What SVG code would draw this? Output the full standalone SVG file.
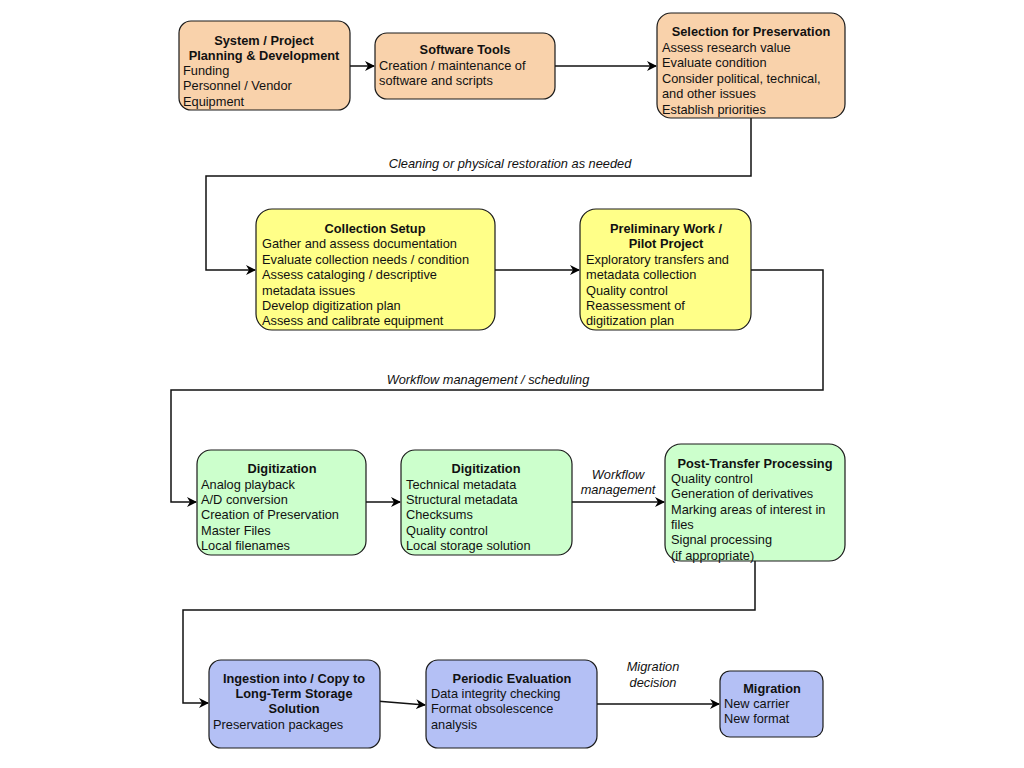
<svg xmlns="http://www.w3.org/2000/svg" width="1024" height="768" viewBox="0 0 1024 768">
<defs>
<marker id="arr" markerWidth="10" markerHeight="10" refX="9" refY="5" orient="auto" markerUnits="userSpaceOnUse">
<path d="M0,0 L10,5 L0,10 L3,5 Z" fill="#000"/>
</marker>
</defs>
<style>
.box{stroke:#1a1a1a;stroke-width:1.2}
.o{fill:#f9d2ab}
.y{fill:#ffff88}
.g{fill:#ccffcc}
.b{fill:#b4c0f5}
text{font-family:"Liberation Sans",Arial,sans-serif;font-size:12.8px;fill:#111}
.t{font-weight:bold;text-anchor:middle}
.lbl{font-style:italic;text-anchor:middle}
.c{fill:none;stroke:#111;stroke-width:1.5}
</style>
<rect width="1024" height="768" fill="#fff"/>
<g id="connectors">
<path class="c" d="M350,66 L374,66" marker-end="url(#arr)"/>
<path class="c" d="M555,66 L656,66" marker-end="url(#arr)"/>
<path class="c" d="M751,118 L751,176 L206,176 L206,270 L255,270" marker-end="url(#arr)"/>
<path class="c" d="M495,270 L579,270" marker-end="url(#arr)"/>
<path class="c" d="M751,270 L823,270 L823,390 L171,390 L171,502 L196,502" marker-end="url(#arr)"/>
<path class="c" d="M366,502 L400,502" marker-end="url(#arr)"/>
<path class="c" d="M572,502 L664,502" marker-end="url(#arr)"/>
<path class="c" d="M755,561 L755,610 L183,610 L183,703 L208,703" marker-end="url(#arr)"/>
<path class="c" d="M376,701 L425,705" marker-end="url(#arr)"/>
<path class="c" d="M597,704 L719,704" marker-end="url(#arr)"/>
<text class="lbl" x="510" y="168">Cleaning or physical restoration as needed</text>
<text class="lbl" x="488" y="384">Workflow management / scheduling</text>
<text class="lbl" x="618" y="479">Workflow</text>
<text class="lbl" x="618" y="494">management</text>
<text class="lbl" x="653" y="671">Migration</text>
<text class="lbl" x="653" y="687">decision</text>
</g>
<g id="n1">
<rect class="box o" x="179" y="21" width="171" height="89" rx="12"/>
<text class="t" x="264" y="45">System / Project</text>
<text class="t" x="264" y="60">Planning &amp; Development</text>
<text x="183" y="75">Funding</text>
<text x="183" y="90">Personnel / Vendor</text>
<text x="183" y="106">Equipment</text>
</g>
<g id="n2">
<rect class="box o" x="375" y="33" width="180" height="66" rx="12"/>
<text class="t" x="465" y="54">Software Tools</text>
<text x="379" y="70">Creation / maintenance of</text>
<text x="379" y="85">software and scripts</text>
</g>
<g id="n3">
<rect class="box o" x="657" y="13" width="188" height="105" rx="14"/>
<text class="t" x="751" y="36">Selection for Preservation</text>
<text x="662" y="52">Assess research value</text>
<text x="662" y="67">Evaluate condition</text>
<text x="662" y="83">Consider political, technical,</text>
<text x="662" y="98">and other issues</text>
<text x="662" y="114">Establish priorities</text>
</g>
<g id="n4">
<rect class="box y" x="256" y="209" width="239" height="121" rx="16"/>
<text class="t" x="375" y="233">Collection Setup</text>
<text x="262" y="248">Gather and assess documentation</text>
<text x="262" y="264">Evaluate collection needs / condition</text>
<text x="262" y="279">Assess cataloging / descriptive</text>
<text x="262" y="295">metadata issues</text>
<text x="262" y="310">Develop digitization plan</text>
<text x="262" y="325">Assess and calibrate equipment</text>
</g>
<g id="n5">
<rect class="box y" x="580" y="209" width="171" height="121" rx="16"/>
<text class="t" x="666" y="233">Preliminary Work /</text>
<text class="t" x="666" y="248">Pilot Project</text>
<text x="586" y="264">Exploratory transfers and</text>
<text x="586" y="279">metadata collection</text>
<text x="586" y="295">Quality control</text>
<text x="586" y="310">Reassessment of</text>
<text x="586" y="325">digitization plan</text>
</g>
<g id="n6">
<rect class="box g" x="197" y="450" width="169" height="105" rx="14"/>
<text class="t" x="282" y="473">Digitization</text>
<text x="201" y="489">Analog playback</text>
<text x="201" y="504">A/D conversion</text>
<text x="201" y="519">Creation of Preservation</text>
<text x="201" y="535">Master Files</text>
<text x="201" y="550">Local filenames</text>
</g>
<g id="n7">
<rect class="box g" x="401" y="450" width="171" height="105" rx="14"/>
<text class="t" x="486" y="473">Digitization</text>
<text x="406" y="489">Technical metadata</text>
<text x="406" y="504">Structural metadata</text>
<text x="406" y="519">Checksums</text>
<text x="406" y="535">Quality control</text>
<text x="406" y="550">Local storage solution</text>
</g>
<g id="n8">
<rect class="box g" x="665" y="444" width="180" height="117" rx="16"/>
<text class="t" x="755" y="468">Post-Transfer Processing</text>
<text x="671" y="483">Quality control</text>
<text x="671" y="498">Generation of derivatives</text>
<text x="671" y="514">Marking areas of interest in</text>
<text x="671" y="529">files</text>
<text x="671" y="544">Signal processing</text>
<text x="671" y="560">(if appropriate)</text>
</g>
<g id="n9">
<rect class="box b" x="209" y="660" width="171" height="88" rx="12"/>
<text class="t" x="294" y="683">Ingestion into / Copy to</text>
<text class="t" x="294" y="698">Long-Term Storage</text>
<text class="t" x="294" y="713">Solution</text>
<text x="213" y="729">Preservation packages</text>
</g>
<g id="n10">
<rect class="box b" x="426" y="660" width="171" height="88" rx="12"/>
<text class="t" x="512" y="683">Periodic Evaluation</text>
<text x="431" y="698">Data integrity checking</text>
<text x="431" y="713">Format obsolescence</text>
<text x="431" y="729">analysis</text>
</g>
<g id="n11">
<rect class="box b" x="720" y="671" width="103" height="66" rx="10"/>
<text class="t" x="772" y="693">Migration</text>
<text x="724" y="708">New carrier</text>
<text x="724" y="723">New format</text>
</g>
</svg>
